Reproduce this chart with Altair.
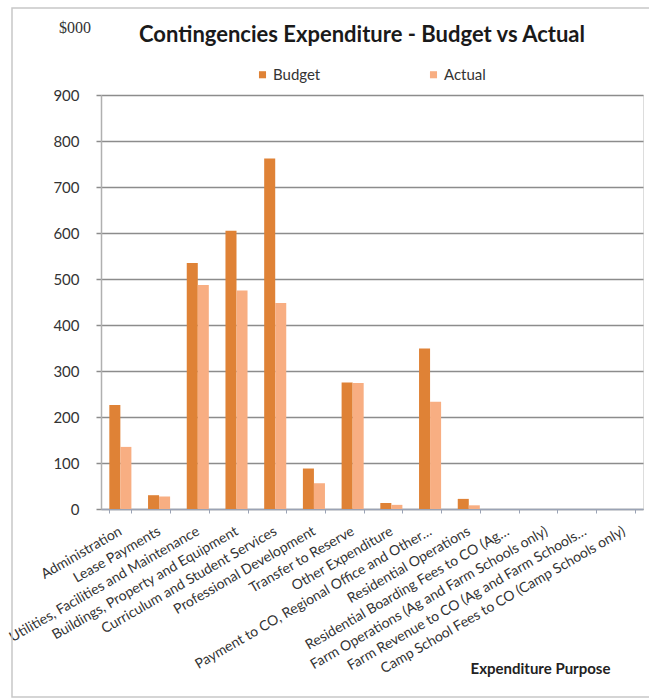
import altair as alt
import pandas as pd

categories = [
    "Administration",
    "Lease Payments",
    "Utilities, Facilities and Maintenance",
    "Buildings, Property and Equipment",
    "Curriculum and Student Services",
    "Professional Development",
    "Transfer to Reserve",
    "Other Expenditure",
    "Payment to CO, Regional Office and Other…",
    "Residential Operations",
    "Residential Boarding Fees to CO (Ag…",
    "Farm Operations (Ag and Farm Schools only)",
    "Farm Revenue to CO (Ag and Farm Schools…",
    "Camp School Fees to CO (Camp Schools only)",
]
budget = [226, 30, 535, 605, 762, 88, 275, 13, 349, 22, 0, 0, 0, 0]
actual = [135, 27, 487, 475, 448, 56, 274, 9, 233, 8, 0, 0, 0, 0]
series = ["Budget", "Actual"]
colors = ["#DF8236", "#F8AE82"]
y_ticks = [0, 100, 200, 300, 400, 500, 600, 700, 800, 900]
title_text = "Contingencies Expenditure - Budget vs Actual"
unit_text = "$000"

rows = []
for c, b, a in zip(categories, budget, actual):
    rows.append({"Category": c, "Series": "Budget", "Value": b})
    rows.append({"Category": c, "Series": "Actual", "Value": a})
df = pd.DataFrame(rows)

FONT = "Lato"

bars = alt.Chart(df).mark_bar().encode(
    x=alt.X(
        "Category:N",
        sort=categories,
        scale=alt.Scale(paddingInner=0.43, paddingOuter=0.215),
        axis=alt.Axis(
            title="Expenditure Purpose",
            titleFont=FONT,
            titleFontSize=15,
            titleFontWeight="bold",
            titleColor="#222222",
            titleX=439,
            titleY=159,
            titleAlign="center",
            titleBaseline="middle",
            labelAngle=330,
            labelAlign="right",
            labelBaseline="middle",
            labelFont=FONT,
            labelFontSize=14,
            labelColor="#333333",
            labelLimit=400,
            labelPadding=17,
            labelOverlap=False,
            tickBand="extent",
            tickSize=4,
            tickColor="#9aa3b5",
            domainColor="#9aa3b5",
            domainWidth=1.5,
            grid=False,
        ),
    ),
    xOffset=alt.XOffset("Series:N", sort=series),
    y=alt.Y(
        "Value:Q",
        scale=alt.Scale(domain=[0, 900], nice=False),
        axis=alt.Axis(
            values=y_ticks,
            title=None,
            labelFont=FONT,
            labelFontSize=15,
            labelColor="#333333",
            labelPadding=17,
            tickSize=5,
            tickColor="#8c8c8c",
            tickWidth=1.5,
            gridColor="#8c8c8c",
            gridWidth=1.5,
            domainColor="#b0b0b0",
            domainWidth=1.5,
        ),
    ),
    color=alt.Color(
        "Series:N",
        sort=series,
        scale=alt.Scale(domain=series, range=colors),
        legend=alt.Legend(
            title=None,
            orient="none",
            legendX=154,
            legendY=-28,
            direction="horizontal",
            symbolType="square",
            symbolSize=50,
            symbolStrokeWidth=0,
            labelFont=FONT,
            labelFontSize=15,
            labelColor="#333333",
            columnPadding=105,
            labelOffset=3,
        ),
    ),
)

one = pd.DataFrame({"a": [0]})

frame = alt.Chart(one).mark_rect(
    filled=False, stroke="#c8c8c8", strokeWidth=1.5
).encode(
    x=alt.value(-89), x2=alt.value(560), y=alt.value(-87), y2=alt.value(602)
)

title = alt.Chart(one).mark_text(
    text=title_text,
    font=FONT,
    fontSize=22,
    fontWeight="bold",
    color="#1a1a1a",
    align="center",
    baseline="middle",
).encode(x=alt.value(261), y=alt.value(-60))

unit = alt.Chart(one).mark_text(
    text=unit_text,
    font="Liberation Serif",
    fontSize=16,
    color="#333333",
    align="center",
    baseline="middle",
).encode(x=alt.value(-26), y=alt.value(-67))

chart = alt.layer(frame, bars, title, unit).properties(
    width=542,
    height=414,
    autosize=alt.AutoSizeParams(type="none"),
    padding={"left": 101, "top": 95, "right": 6, "bottom": 191},
).configure_view(stroke=None).configure(background="white")

chart.save("out.html", embed_options={"renderer": "svg", "actions": False})
